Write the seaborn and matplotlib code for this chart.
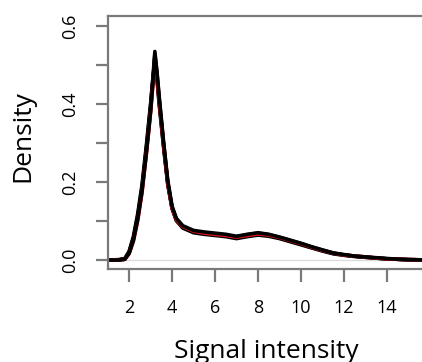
import matplotlib
matplotlib.use("Agg")
import matplotlib.pyplot as plt
import seaborn as sns
import pandas as pd

# ---- data ----
signal = [1.0, 1.5, 1.8, 2.0, 2.2, 2.4, 2.6, 2.8, 3.0, 3.1, 3.2, 3.3, 3.4, 3.6, 3.8, 4.0,
          4.2, 4.5, 5.0, 5.5, 6.0, 6.5, 7.0, 7.5, 8.0, 8.5, 9.0, 9.5, 10.0, 10.5, 11.0,
          11.5, 12.0, 12.5, 13.0, 13.5, 14.0, 14.5, 15.0, 15.6]

sample_1 = [0, 0.000, 0.003, 0.020, 0.056, 0.112, 0.185, 0.285, 0.395, 0.462, 0.535, 0.478,
            0.415, 0.302, 0.200, 0.136, 0.105, 0.086, 0.074, 0.070, 0.067, 0.064, 0.060,
            0.065, 0.069, 0.065, 0.058, 0.050, 0.042, 0.033, 0.025, 0.018, 0.013, 0.010,
            0.008, 0.005, 0.003, 0.002, 0.001, 0.0005]
sample_2 = [0, 0.000, 0.002, 0.018, 0.052, 0.106, 0.178, 0.276, 0.384, 0.452, 0.520, 0.468,
            0.405, 0.296, 0.196, 0.133, 0.102, 0.084, 0.072, 0.068, 0.065, 0.062, 0.057,
            0.062, 0.066, 0.063, 0.057, 0.049, 0.041, 0.032, 0.024, 0.017, 0.013, 0.010,
            0.007, 0.005, 0.003, 0.002, 0.001, 0.0005]
sample_3 = [0, 0.001, 0.004, 0.022, 0.060, 0.118, 0.192, 0.292, 0.400, 0.460, 0.508, 0.462,
            0.400, 0.292, 0.194, 0.132, 0.101, 0.082, 0.070, 0.066, 0.063, 0.060, 0.055,
            0.060, 0.064, 0.061, 0.055, 0.047, 0.039, 0.031, 0.023, 0.016, 0.012, 0.009,
            0.007, 0.005, 0.003, 0.002, 0.001, 0.0005]
sample_4 = [0, 0.000, 0.002, 0.017, 0.050, 0.104, 0.176, 0.272, 0.380, 0.450, 0.528, 0.482,
            0.420, 0.306, 0.204, 0.138, 0.107, 0.088, 0.076, 0.072, 0.069, 0.066, 0.061,
            0.066, 0.070, 0.066, 0.059, 0.051, 0.043, 0.034, 0.026, 0.018, 0.014, 0.010,
            0.008, 0.006, 0.004, 0.002, 0.001, 0.0005]
sample_red = [0, 0.000, 0.002, 0.016, 0.048, 0.100, 0.172, 0.270, 0.378, 0.445, 0.512, 0.470,
              0.410, 0.300, 0.198, 0.134, 0.104, 0.086, 0.074, 0.069, 0.066, 0.063, 0.059,
              0.063, 0.067, 0.064, 0.058, 0.050, 0.042, 0.033, 0.025, 0.018, 0.013, 0.010,
              0.008, 0.005, 0.003, 0.002, 0.001, 0.0005]

series = {"s1": sample_1, "s3": sample_3, "s2": sample_2, "red": sample_red, "s4": sample_4}
series_colors = {"s1": "black", "s3": "black", "s2": "black", "red": "#e8141c", "s4": "black"}

y_ticks = [0.0, 0.1, 0.2, 0.3, 0.4, 0.5, 0.6]
y_tick_labels = ["0.0", "", "0.2", "", "0.4", "", "0.6"]
x_ticks = [2, 4, 6, 8, 10, 12, 14]
x_tick_labels = ["2", "4", "6", "8", "10", "12", "14"]

rows = []
for name, vals in series.items():
    for xv, yv in zip(signal, vals):
        rows.append({"sample": name, "x": xv, "y": yv})
df = pd.DataFrame(rows)

# ---- figure ----
sns.set_theme(style="white")
plt.rcParams["font.family"] = ["Open Sans", "DejaVu Sans"]

W, H = 422, 362
fig = plt.figure(figsize=(W / 100, H / 100), dpi=100)
ax = fig.add_axes([108 / W, (H - 269) / H, 316 / W, 253 / H])

ax.axhline(0, color="#dcdcdc", lw=1.0, zorder=0)
sns.lineplot(data=df, x="x", y="y", hue="sample", hue_order=list(series.keys()),
             palette=series_colors, estimator=None, sort=False, legend=False,
             linewidth=2.6, ax=ax)

ax.set_xlim(1.02, 15.72)
ax.set_ylim(-0.023, 0.626)

gray = "#7a7a7a"
for side in ["left", "top", "bottom"]:
    ax.spines[side].set_visible(True)
    ax.spines[side].set_color(gray)
    ax.spines[side].set_linewidth(1.6)
ax.spines["right"].set_visible(False)

ax.set_yticks(y_ticks)
ax.set_yticklabels(y_tick_labels, rotation=90, va="center")
ax.set_xticks(x_ticks)
ax.set_xticklabels(x_tick_labels)
ax.tick_params(axis="both", which="major", direction="out", length=9, width=1.6,
               color=gray, labelsize=13, labelcolor="black", left=True, bottom=True)
ax.tick_params(axis="y", pad=11.5)
ax.tick_params(axis="x", pad=12.5)

ax.set_xlabel("Signal intensity", fontsize=19, color="black")
ax.set_ylabel("Density", fontsize=19, color="black")
ax.xaxis.label.set_va("center")
ax.yaxis.label.set_va("center")
ax.xaxis.set_label_coords(0.5, (269 - 351) / 253)
ax.yaxis.set_label_coords((23 - 108) / 316, (269 - 136) / 253)

fig.savefig("out.png", dpi=100)
